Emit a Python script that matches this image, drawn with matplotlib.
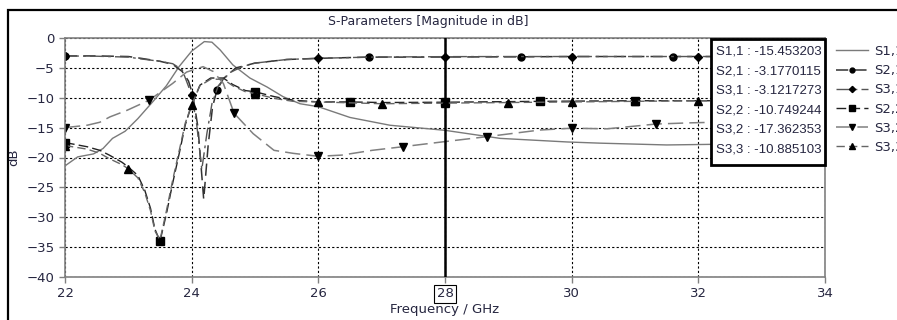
import numpy as np
import matplotlib
matplotlib.use('Agg')
import matplotlib.pyplot as plt
from matplotlib.patches import Rectangle

# S-parameter curves (GHz, dB)
f11 = [22, 22.2, 22.45, 22.6, 22.75, 22.95, 23.15, 23.4, 23.6, 23.8, 24.0, 24.2, 24.32, 24.45,
       24.65, 24.92, 25.19, 25.44, 25.71, 26.0, 26.5, 27.13, 28.0, 28.87, 29.93, 30.45, 31.5,
       32.2, 33.0, 34]
s11 = [-21.4, -19.9, -19.4, -18.5, -16.8, -15.6, -13.5, -10.5, -8.0, -4.8, -2.2, -0.6, -0.7, -2.0,
       -4.5, -6.7, -8.2, -9.8, -11.0, -11.5, -13.3, -14.6, -15.45, -16.8, -17.4, -17.6, -17.9,
       -17.8, -17.8, -17.8]

f21 = [22, 22.5, 23.0, 23.2, 23.5, 23.7, 23.85, 23.95, 24.02, 24.1, 24.19, 24.26, 24.33, 24.4,
       24.5, 24.7, 25.0, 25.5, 26.0, 26.8, 27.5, 28.0, 29.2, 30.0, 31.6, 32.5, 34]
s21 = [-3.0, -3.0, -3.1, -3.4, -3.9, -4.4, -5.6, -7.2, -9.6, -15.0, -27.0, -18.0, -11.5, -8.7,
       -6.8, -5.0, -4.2, -3.6, -3.4, -3.2, -3.2, -3.18, -3.15, -3.1, -3.1, -3.1, -3.1]
mk21 = [22, 24.4, 26.8, 29.2, 31.6, 34]

f31 = [22, 22.5, 23.0, 23.2, 23.5, 23.7, 23.85, 24.0, 24.08, 24.16, 24.24, 24.32, 24.42, 24.6,
       24.8, 25.0, 25.5, 26.0, 26.8, 27.5, 28.0, 29.0, 30.0, 31.0, 32.0, 33.0, 34]
s31 = [-3.0, -3.05, -3.2, -3.5, -3.9, -4.3, -5.3, -9.5, -14.5, -22.0, -16.0, -11.0, -8.0, -5.8,
       -4.8, -4.2, -3.6, -3.4, -3.2, -3.15, -3.12, -3.1, -3.1, -3.1, -3.1, -3.1, -3.1]
mk31 = [22, 24.0, 26.0, 28.0, 30.0, 32.0, 34]

f22 = [22, 22.35, 22.55, 22.7, 22.9, 23.0, 23.15, 23.26, 23.35, 23.42, 23.5, 23.6, 23.7, 23.8,
       23.9, 24.0, 24.13, 24.3, 24.5, 24.65, 24.85, 25.0, 25.3, 25.6, 26.0, 26.5, 27.0, 28.0,
       29.5, 31.0, 32.5, 34]
s22 = [-17.5, -18.2, -18.8, -19.6, -20.8, -21.6, -23.0, -25.5, -28.5, -32.0, -34.0, -29.5, -24.3,
       -19.5, -14.5, -11.2, -7.9, -6.7, -6.7, -7.8, -8.8, -9.0, -9.8, -10.4, -10.7, -10.7, -10.8,
       -10.75, -10.6, -10.5, -10.5, -10.5]
mk22 = [22, 23.5, 25.0, 26.5, 28.0, 29.5, 31.0, 32.5, 34]

f32 = [22, 22.35, 22.55, 22.71, 22.98, 23.33, 23.7, 23.92, 24.18, 24.34, 24.5, 24.67, 24.97,
       25.3, 25.6, 26.0, 26.37, 26.85, 27.33, 27.95, 28.67, 29.5, 30.0, 30.56, 31.33, 31.87,
       32.67, 34]
s32 = [-15.0, -14.6, -14.1, -13.2, -12.1, -10.4, -7.6, -5.7, -4.8, -5.6, -7.6, -12.6, -16.0,
       -18.8, -19.3, -19.8, -19.6, -18.8, -18.2, -17.4, -16.5, -15.4, -15.1, -15.2, -14.4, -14.2,
       -14.0, -13.8]
mk32 = [22, 23.33, 24.67, 26.0, 27.33, 28.67, 30.0, 31.33, 32.67, 34]

f33 = [22, 22.35, 22.55, 22.7, 22.9, 23.0, 23.15, 23.26, 23.35, 23.42, 23.5, 23.6, 23.7, 23.8,
       23.9, 24.0, 24.13, 24.3, 24.5, 24.65, 24.85, 25.0, 25.3, 25.6, 26.0, 27.0, 28.0, 29.0,
       30.0, 31.0, 32.0, 33.0, 34]
s33 = [-18.0, -18.6, -19.3, -20.2, -21.2, -21.9, -23.4, -25.9, -28.9, -32.3, -33.8, -29.0, -23.8,
       -19.0, -14.2, -11.2, -8.0, -6.9, -6.9, -8.0, -9.0, -9.3, -10.1, -10.6, -10.7, -11.0, -10.9,
       -10.8, -10.7, -10.6, -10.5, -10.5, -10.5]
mk33 = [22, 23, 24, 25, 26, 27, 28, 29, 30, 31, 32, 33, 34]

# marker readout at 28 GHz
readout_names = ['S1,1', 'S2,1', 'S3,1', 'S2,2', 'S3,2', 'S3,3']
readout_vals = ['-15.453203', '-3.1770115', '-3.1217273', '-10.749244', '-17.362353', '-10.885103']
marker_freq = 28

txt_col = '#262640'
plt.rcParams['font.family'] = 'DejaVu Sans'
plt.rcParams['font.size'] = 9

fig = plt.figure(figsize=(8.97, 3.2), dpi=100)
ax = fig.add_axes([65/897, 43/320, 760/897, 239/320])

def idx(f, mk):
    return [f.index(m) for m in mk]

ax.plot(f11, s11, color='#7a7a7a', lw=1.0, label='S1,1')
ax.plot(f21, s21, color='#333333', lw=1.1, dashes=(8, 4), marker='o', ms=5,
        markevery=idx(f21, mk21), mfc='black', mec='black', label='S2,1')
ax.plot(f31, s31, color='#555555', lw=1.0, dashes=(10, 3, 2, 3), marker='D', ms=4.5,
        markevery=idx(f31, mk31), mfc='black', mec='black', label='S3,1')
ax.plot(f22, s22, color='#222222', lw=1.0, dashes=(7, 3), marker='s', ms=5.5,
        markevery=idx(f22, mk22), mfc='black', mec='black', label='S2,2')
ax.plot(f32, s32, color='#808080', lw=1.1, dashes=(10, 4), marker='v', ms=6,
        markevery=idx(f32, mk32), mfc='black', mec='black', label='S3,2')
ax.plot(f33, s33, color='#666666', lw=1.0, dashes=(6, 3), marker='^', ms=6,
        markevery=idx(f33, mk33), mfc='black', mec='black', label='S3,3')

ax.axvline(marker_freq, color='black', lw=1.8, zorder=5)

ax.set_xlim(22, 34)
ax.set_ylim(-40, 0)
ax.set_xticks(np.arange(22, 35, 2))
ax.set_yticks(np.arange(-40, 1, 5))
ax.grid(True, color='black', ls=(0, (2, 2)), lw=0.8)
for s in ax.spines.values():
    s.set_color('#808080')
    s.set_linewidth(1.2)
ax.tick_params(colors='#808080', labelcolor=txt_col, labelsize=9.5, length=4, width=1)
for lab in ax.get_xticklabels():
    if lab.get_text() == str(marker_freq):
        lab.set_bbox(dict(facecolor='white', edgecolor='black', pad=2, lw=0.8))
ax.set_xlabel('Frequency / GHz', color=txt_col, fontsize=9.5, labelpad=2)
ax.set_ylabel('dB', color=txt_col, fontsize=9.5)
ax.yaxis.set_label_coords(-45/760, 0.5)

fig.text(428/897, 1 - 22/320, 'S-Parameters [Magnitude in dB]', ha='center', va='center',
         color=txt_col, fontsize=9)

# outer frame
fig.add_artist(Rectangle((8/897, -0.1), 1.0, 1 - 10/320 + 0.1, transform=fig.transFigure,
                         fill=False, edgecolor='black', lw=1.6))

# readout box
fig.add_artist(Rectangle((711/897, 1 - 165/320), 114/897, 126/320, transform=fig.transFigure,
                         facecolor='white', edgecolor='black', lw=2, zorder=10))
for i, (n, v) in enumerate(zip(readout_names, readout_vals)):
    fig.text(716/897, 1 - (52 + 19.4 * i)/320, f'{n} : {v}', ha='left', va='center',
             color=txt_col, fontsize=9.5, family='Liberation Sans', zorder=11)

# legend beside the plot (cut by the right edge, as in the source picture)
fig.legend(loc='upper left', bbox_to_anchor=(836/897, 1 - 45/320), frameon=False,
           fontsize=9.5, handlelength=2.4, handletextpad=0.5, labelspacing=0.47,
           labelcolor=txt_col, borderaxespad=0, borderpad=0, markerscale=0.7)

fig.savefig('out.png', dpi=100, facecolor='white')
